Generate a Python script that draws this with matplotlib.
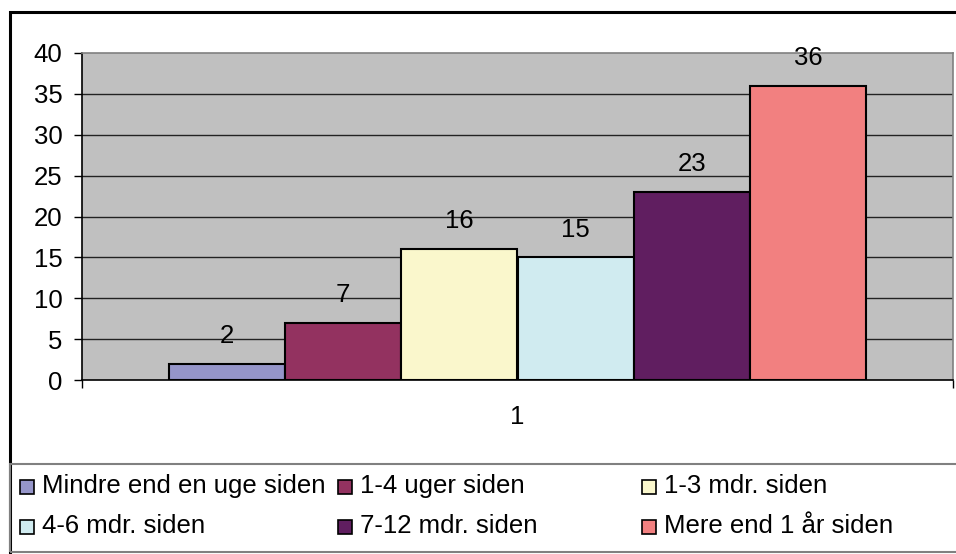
import matplotlib
matplotlib.use("Agg")
import matplotlib.pyplot as plt
from matplotlib.patches import Rectangle

plt.rcParams['font.family'] = ['Liberation Sans', 'DejaVu Sans']

# data
labels = ["Mindre end en uge siden", "1-4 uger siden", "1-3 mdr. siden",
          "4-6 mdr. siden", "7-12 mdr. siden", "Mere end 1 år siden"]
values = [2, 7, 16, 15, 23, 36]
colors = ["#9595C9", "#933260", "#FAF7CC", "#D0EBF0", "#601E60", "#F28080"]
category = "1"
yticks = [0, 5, 10, 15, 20, 25, 30, 35, 40]

FS = 18.5
W, H = 956, 554
fig = plt.figure(figsize=(W / 100, H / 100), dpi=100)

# plot area in pixels
left, right, top, bottom = 82, 953, 53, 380
ax = fig.add_axes([left / W, 1 - bottom / H, (right - left) / W, (bottom - top) / H])
ax.set_facecolor("#C0C0C0")

n = len(values)
w = 1 / (n + 1.5)
x0 = 1 - n * w / 2
for i, (v, c) in enumerate(zip(values, colors)):
    ax.bar(x0 + i * w, v, width=w, align="edge", color=c, edgecolor="black",
           linewidth=1.5, zorder=3)
    ax.annotate(str(v), (x0 + (i + 0.5) * w, v), xytext=(0, 20),
                textcoords="offset points", ha="center", va="center",
                fontsize=FS, zorder=4)

ax.set_xlim(0.5, 1.5)
ax.set_ylim(0, 40)
ax.set_yticks(yticks)
ax.set_yticklabels([str(t) for t in yticks], fontsize=FS)
ax.tick_params(axis="y", length=6, width=1, pad=8, direction="out")
ax.set_xticks([1])
ax.set_xticklabels([category], fontsize=FS)
ax.tick_params(axis="x", which="major", length=0, pad=18)
ax.set_xticks([0.5, 1.5], minor=True)
ax.tick_params(axis="x", which="minor", length=6, width=1)

for t in yticks[1:-1]:
    ax.axhline(t, color="#222222", linewidth=1, zorder=1)

ax.spines["left"].set_color("black")
ax.spines["bottom"].set_color("black")
ax.spines["top"].set_color("#808080")
ax.spines["right"].set_color("#808080")
for s in ax.spines.values():
    s.set_linewidth(1.2)
ax.spines["bottom"].set_zorder(5)


def fx(px):
    return px / W


def fy(py):
    return 1 - py / H


# outer chart border
fig.patches.append(Rectangle((fx(10), fy(560)), fx(960) - fx(10), fy(12) - fy(560),
                             transform=fig.transFigure, fill=False,
                             edgecolor="black", linewidth=2.2))
# legend box
fig.patches.append(Rectangle((fx(10), fy(552)), fx(960) - fx(10), fy(464) - fy(552),
                             transform=fig.transFigure, fill=False,
                             edgecolor="#808080", linewidth=1.5))

col_x = [20, 338, 642]
row_y = [486, 526]
for k in range(len(labels)):
    r, c = divmod(k, 3)
    sx, sy = col_x[c], row_y[r]
    fig.patches.append(Rectangle((fx(sx), fy(sy + 8)), 14 / W, 14 / H,
                                 transform=fig.transFigure,
                                 facecolor=colors[k], edgecolor="black",
                                 linewidth=1.2))
    fig.text(fx(sx + 22), fy(sy), labels[k], fontsize=FS, ha="left", va="center")

fig.savefig("out.png", dpi=100)
